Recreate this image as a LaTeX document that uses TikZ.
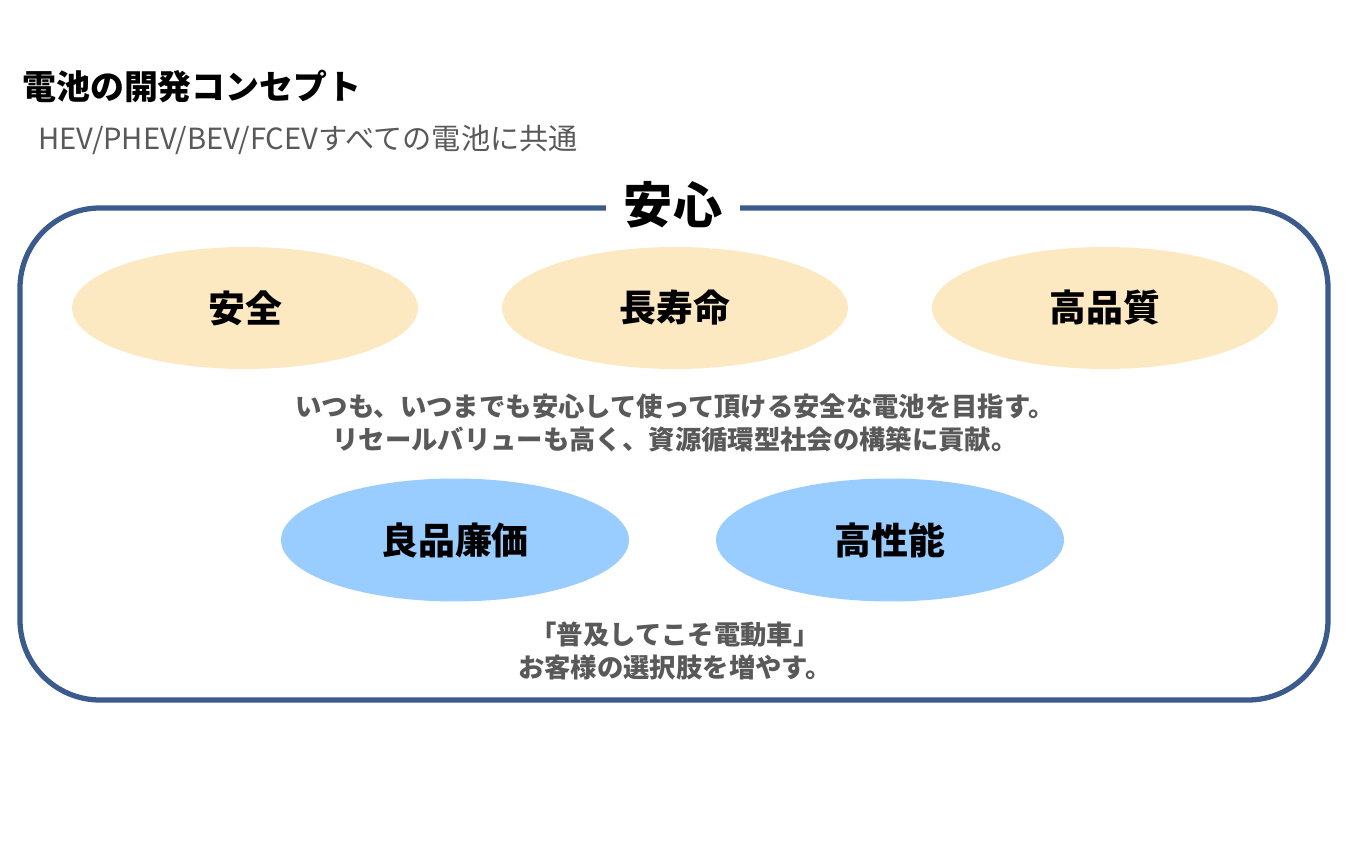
\documentclass[tikz,border=0pt]{standalone}
\usepackage{fontspec}
\setmainfont{Noto Sans CJK JP}
\usetikzlibrary{shapes.geometric,positioning}
\definecolor{FrameBlue}{RGB}{59,91,140}
\definecolor{SoftYellow}{RGB}{252,233,194}
\definecolor{SoftBlue}{RGB}{153,204,255}
\definecolor{TextGray}{RGB}{89,89,89}

\begin{document}
\begin{tikzpicture}[x=0.02cm,y=-0.02cm]
  \useasboundingbox (0,0) rectangle (1350,844);
  \node[anchor=west,inner sep=0,font=\bfseries\fontsize{19.3}{22}\selectfont] (title) at (22,87) {電池の開発コンセプト};
  \node[anchor=west,inner sep=0,TextGray,font=\fontsize{16.6}{20}\selectfont] (subtitle) at (38,140) {HEV/PHEV/BEV/FCEVすべての電池に共通};
  \draw[FrameBlue,line width=3pt,rounded corners=1.6cm] (20,208) rectangle (1328,700);
  \node[fill=white,inner xsep=10pt,font=\bfseries\fontsize{28}{32}\selectfont] (anshin) at (673,205) {安心};
  \foreach \x/\t [count=\i] in {245/安全,675/長寿命,1105/高品質} {
    \node[ellipse,fill=SoftYellow,minimum width=6.92cm,minimum height=2.44cm,font=\bfseries\fontsize{21}{24}\selectfont] (Y\i) at (\x,308) {\t};
  }
  \node[TextGray,align=center,font=\bfseries\fontsize{15}{18.7}\selectfont] (msgA) at (675,423) {いつも、いつまでも安心して使って頂ける安全な電池を目指す。\\リセールバリューも高く、資源循環型社会の構築に貢献。};
  \foreach \x/\t [count=\i] in {455/良品廉価,890/高性能} {
    \node[ellipse,fill=SoftBlue,minimum width=6.96cm,minimum height=2.46cm,font=\bfseries\fontsize{21}{24}\selectfont] (B\i) at (\x,540) {\t};
  }
  \node[TextGray,align=center,font=\bfseries\fontsize{15}{18.7}\selectfont] (msgB) at (675,651) {「普及してこそ電動車」\\お客様の選択肢を増やす。};
\end{tikzpicture}
\end{document}
